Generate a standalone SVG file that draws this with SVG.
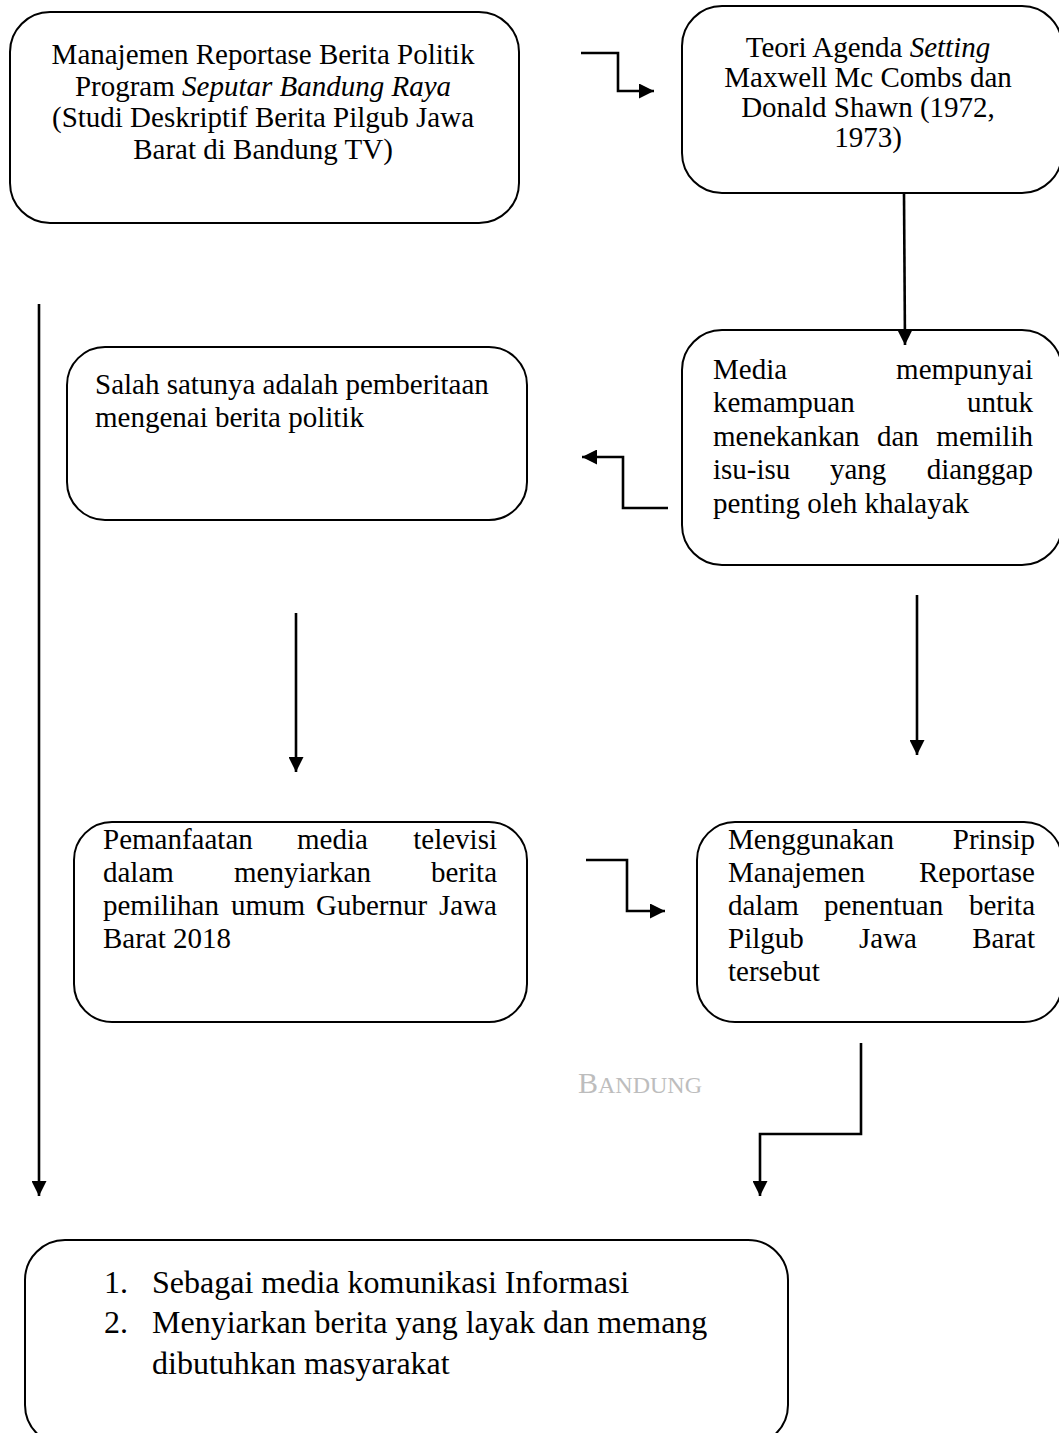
<svg xmlns="http://www.w3.org/2000/svg" width="1059" height="1433" viewBox="0 0 1059 1433">
<defs>
<marker id="ah" viewBox="0 0 15 15" refX="15" refY="7.5" markerWidth="15" markerHeight="15" markerUnits="userSpaceOnUse" orient="auto">
<path d="M0,0 L15,7.5 L0,15 Z" fill="#000"/>
</marker>
</defs>
<style>
.box{fill:#fff;stroke:#000;stroke-width:2}
.t{font-family:"Liberation Serif","Times New Roman",serif;font-size:29px;fill:#000}
.c{text-anchor:middle}
.e{text-anchor:end}
.bl{font-family:"Liberation Serif","Times New Roman",serif;font-size:32px;fill:#000}
.conn{fill:none;stroke:#000;stroke-width:2.6}
.wm{font-family:"Liberation Serif","Times New Roman",serif;fill:#bdbdbd}
</style>
<rect width="1059" height="1433" fill="#fff"/>

<g id="node-manajemen">
<rect class="box" x="10" y="12" width="509" height="211" rx="40" ry="40"/>
<text class="t c" x="263" y="64">Manajemen Reportase Berita Politik</text>
<text class="t c" x="263" y="95.5">Program <tspan font-style="italic">Seputar Bandung Raya</tspan></text>
<text class="t c" x="263" y="127">(Studi Deskriptif Berita Pilgub Jawa</text>
<text class="t c" x="263" y="158.5">Barat di Bandung TV)</text>
</g>

<g id="node-teori">
<rect class="box" x="682" y="6" width="380" height="187" rx="40" ry="40"/>
<text class="t c" x="868" y="57">Teori Agenda <tspan font-style="italic">Setting</tspan></text>
<text class="t c" x="868" y="87">Maxwell Mc Combs dan</text>
<text class="t c" x="868" y="117">Donald Shawn (1972,</text>
<text class="t c" x="868" y="147">1973)</text>
</g>

<g id="node-media">
<rect class="box" x="682" y="330" width="380" height="235" rx="40" ry="40"/>
<text class="t" x="713" y="379">Media</text><text class="t e" x="1033" y="379">mempunyai</text>
<text class="t" x="713" y="412">kemampuan</text><text class="t e" x="1033" y="412">untuk</text>
<text class="t" x="713" y="446">menekankan</text><text class="t" x="877" y="446">dan</text><text class="t e" x="1033" y="446">memilih</text>
<text class="t" x="713" y="479">isu-isu</text><text class="t" x="830" y="479">yang</text><text class="t e" x="1033" y="479">dianggap</text>
<text class="t" x="713" y="513">penting oleh khalayak</text>
</g>

<g id="node-salah">
<rect class="box" x="67" y="347" width="460" height="173" rx="38" ry="38"/>
<text class="t" x="95" y="394">Salah satunya adalah pemberitaan</text>
<text class="t" x="95" y="427">mengenai berita politik</text>
</g>

<g id="node-pemanfaatan">
<rect class="box" x="74" y="822" width="453" height="200" rx="38" ry="38"/>
<text class="t" x="103" y="849">Pemanfaatan</text><text class="t" x="297" y="849">media</text><text class="t e" x="497" y="849">televisi</text>
<text class="t" x="103" y="882">dalam</text><text class="t" x="234" y="882">menyiarkan</text><text class="t e" x="497" y="882">berita</text>
<text class="t" x="103" y="915">pemilihan</text><text class="t" x="231" y="915">umum</text><text class="t" x="316" y="915">Gubernur</text><text class="t e" x="497" y="915">Jawa</text>
<text class="t" x="103" y="948">Barat 2018</text>
</g>

<g id="node-menggunakan">
<rect class="box" x="697" y="822" width="365" height="200" rx="38" ry="38"/>
<text class="t" x="728" y="849">Menggunakan</text><text class="t e" x="1035" y="849">Prinsip</text>
<text class="t" x="728" y="882">Manajemen</text><text class="t e" x="1035" y="882">Reportase</text>
<text class="t" x="728" y="915">dalam</text><text class="t" x="824" y="915">penentuan</text><text class="t e" x="1035" y="915">berita</text>
<text class="t" x="728" y="948">Pilgub</text><text class="t" x="859" y="948">Jawa</text><text class="t e" x="1035" y="948">Barat</text>
<text class="t" x="728" y="981">tersebut</text>
</g>

<g id="node-hasil">
<rect class="box" x="25" y="1240" width="763" height="205" rx="40" ry="40"/>
<text class="bl" x="104" y="1293">1.</text>
<text class="bl" x="152" y="1293">Sebagai media komunikasi Informasi</text>
<text class="bl" x="104" y="1333">2.</text>
<text class="bl" x="152" y="1333">Menyiarkan berita yang layak dan memang</text>
<text class="bl" x="152" y="1374">dibutuhkan masyarakat</text>
</g>

<text class="wm" x="578" y="1093"><tspan font-size="30">B</tspan><tspan font-size="24">ANDUNG</tspan></text>

<g id="connectors">
<path class="conn" d="M581,53 H618 V91 H654" marker-end="url(#ah)"/>
<path class="conn" d="M904,193 L905,345" marker-end="url(#ah)"/>
<path class="conn" d="M668,508 H623 V457 H582" marker-end="url(#ah)"/>
<path class="conn" d="M296,613 V772" marker-end="url(#ah)"/>
<path class="conn" d="M917,595 V755" marker-end="url(#ah)"/>
<path class="conn" d="M586,860 H627 V911 H665" marker-end="url(#ah)"/>
<path class="conn" d="M861,1043 V1134 H760 V1196" marker-end="url(#ah)"/>
<path class="conn" d="M39,304 V1196" marker-end="url(#ah)"/>
</g>
</svg>
